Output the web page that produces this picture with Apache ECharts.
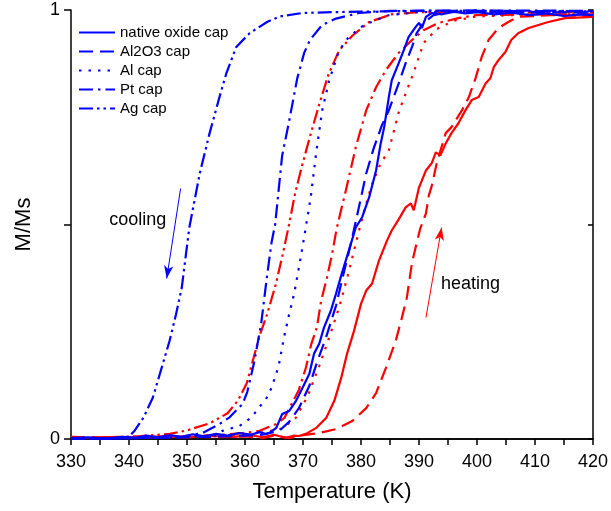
<!DOCTYPE html>
<html>
<head>
<meta charset="utf-8">
<script src="https://cdn.jsdelivr.net/npm/echarts@6/dist/echarts.min.js"></script>
<style>
  html, body { margin: 0; padding: 0; background: #fff; }
  #chart { width: 611px; height: 511px; }
</style>
</head>
<body>
<div id="chart"></div>
<script>
// Normalised magnetisation M/Ms versus temperature for differently capped films.
// Each curve is a list of [temperature (K), M/Ms] samples.

const capNames = ['native oxide cap', 'Al2O3 cap', 'Al cap', 'Pt cap', 'Ag cap'];

// cooling branches (blue)
const coolNative = [[330,0.002],[333,0.004],[336,0.001],[339,0.005],[341,0.003],[343,0.008],[345,0.004],[347,0.009],[349,0.005],[351,0.011],[353,0.006],[355,0.012],[357,0.008],[359,0.014],[361,0.01],[362.5,0.016],[363.5,0.012],[364.2,0.014],[365.4,0.026],[366.4,0.058],[367.6,0.065],[368.8,0.089],[369.9,0.119],[371.1,0.152],[371.9,0.199],[372.8,0.222],[373.6,0.259],[374.8,0.299],[375.7,0.339],[376.7,0.386],[377.9,0.439],[379.1,0.493],[380.2,0.517],[381.4,0.563],[382.6,0.626],[383.4,0.689],[384.0,0.727],[384.8,0.797],[385.3,0.836],[386.5,0.876],[387.4,0.907],[388.2,0.937],[389.4,0.96],[390.0,0.97],[390.5,0.958],[391.2,0.984],[392.2,0.993],[394,0.99],[396,0.996],[398,0.992],[400,0.995],[403,0.99],[406,0.994],[409,0.988],[412,0.992],[415,0.986],[418,0.99],[420,0.988]];
const coolAl2O3 = [[330,0.0],[340,0.002],[350,0.004],[356,0.006],[360,0.008],[363,0.01],[365.9,0.019],[367.6,0.04],[369.3,0.072],[371.1,0.124],[372.4,0.178],[374.0,0.238],[375.7,0.311],[376.7,0.369],[378.3,0.458],[379.7,0.544],[380.9,0.619],[382.2,0.678],[383.6,0.731],[384.8,0.766],[386.5,0.829],[387.7,0.876],[388.8,0.914],[389.6,0.946],[390.8,0.97],[392.5,0.988],[395,0.995],[400,0.996],[410,0.995],[420,0.994]];
const coolAl = [[330,0],[345,0.003],[355,0.008],[356.1,0.019],[359.0,0.03],[361.1,0.05],[362.5,0.075],[363.6,0.092],[364.6,0.12],[365.8,0.17],[366.7,0.235],[367.6,0.29],[368.5,0.34],[369.3,0.40],[370.2,0.47],[370.8,0.52],[371.3,0.56],[372.3,0.67],[373.3,0.765],[374.5,0.835],[376.2,0.905],[377.9,0.937],[380.5,0.965],[384.8,0.988],[390,0.995],[400,0.997],[420,0.996]];
const coolPt = [[330,0],[340,0.002],[346,0.003],[349.5,0.005],[352.7,0.014],[355.6,0.035],[357.3,0.05],[359.6,0.082],[360.4,0.11],[361.6,0.18],[362.8,0.27],[363.8,0.38],[364.6,0.46],[365.2,0.50],[366.4,0.66],[367.6,0.74],[369.0,0.84],[370.2,0.90],[371.2,0.93],[373.3,0.965],[375.7,0.98],[379.7,0.993],[385,0.998],[400,0.999],[420,0.998]];
const coolAg = [[330,0],[336,0.001],[339.8,0.002],[341,0.02],[342.5,0.05],[344.1,0.096],[345.5,0.16],[347.0,0.229],[348.1,0.29],[349.1,0.353],[350.4,0.493],[352.2,0.619],[353.9,0.713],[355.6,0.797],[356.8,0.853],[358.5,0.914],[360.8,0.946],[363.8,0.972],[366,0.985],[369.9,0.993],[375,0.995],[380,0.996],[390,0.998],[400,0.998],[420,0.997]];

// heating branches (red)
const heatNative = [[330,0.003],[334,0.002],[338,0.005],[342,0.003],[346,0.006],[350,0.004],[354,0.007],[358,0.005],[361,0.009],[363,0.004],[365,0.01],[367,0.003],[368.5,0.008],[369.3,0.007],[370.5,0.012],[372.3,0.026],[374.0,0.049],[375.4,0.089],[376.6,0.143],[377.6,0.199],[378.8,0.252],[380.0,0.315],[380.9,0.346],[381.9,0.362],[383.1,0.416],[384.5,0.463],[385.3,0.486],[386.5,0.512],[387.7,0.54],[388.6,0.549],[389.1,0.533],[390.0,0.586],[391.2,0.626],[392.2,0.643],[392.9,0.668],[393.7,0.661],[394.6,0.689],[395.6,0.713],[396.8,0.736],[398.0,0.766],[399.1,0.79],[400.3,0.797],[401.5,0.829],[402.3,0.841],[402.9,0.867],[403.7,0.883],[404.9,0.902],[405.9,0.93],[407.1,0.946],[408.9,0.958],[410.6,0.965],[412.3,0.972],[415.2,0.981],[420,0.984]];
const heatAl2O3 = [[330,0.005],[335,0.004],[340,0.003],[345,0.004],[350,0.005],[355,0.004],[360,0.006],[363,0.002],[365,0.008],[367.6,0.002],[370,0.009],[372.8,0.014],[375.7,0.023],[378.5,0.042],[380.9,0.072],[382.6,0.107],[384.3,0.166],[386.0,0.229],[387.0,0.28],[387.9,0.329],[388.8,0.411],[389.5,0.451],[390.2,0.49],[391.2,0.526],[391.7,0.568],[392.2,0.59],[393.1,0.645],[394.6,0.713],[395.6,0.727],[397.4,0.766],[398.6,0.797],[399.8,0.843],[400.8,0.89],[402.0,0.93],[403.7,0.958],[405.4,0.972],[407.1,0.984],[412.8,0.988],[420,0.986]];
const heatAl = [[330,0.002],[340,0.003],[350,0.005],[358,0.008],[362,0.012],[366.5,0.025],[368.8,0.05],[370.8,0.1],[372.8,0.17],[374.6,0.24],[376.3,0.31],[377.7,0.38],[379,0.45],[380.3,0.52],[381.8,0.59],[383.3,0.64],[384.8,0.673],[386.6,0.766],[389.1,0.855],[390.8,0.923],[393,0.955],[396,0.975],[400,0.985],[410,0.99],[420,0.99]];
const heatPt = [[330,0.002],[340,0.004],[350,0.006],[356,0.01],[360,0.014],[362.5,0.019],[365.4,0.035],[366.8,0.049],[367.6,0.07],[369.3,0.115],[370.5,0.166],[371.4,0.22],[372.4,0.26],[373.1,0.32],[374.2,0.38],[375.0,0.43],[375.8,0.49],[376.5,0.53],[377.4,0.58],[379.1,0.68],[380.9,0.766],[382.6,0.82],[384.3,0.86],[386.5,0.90],[388.8,0.93],[390.8,0.953],[393.4,0.970],[396.8,0.981],[399.8,0.988],[410,0.99],[420,0.99]];
const heatAg = [[330,0],[342,0.007],[347,0.012],[350,0.02],[354,0.037],[357,0.06],[358.8,0.09],[360.3,0.13],[361.5,0.19],[362.5,0.24],[363.8,0.29],[365.3,0.36],[366.5,0.43],[367.6,0.50],[368.6,0.57],[369.7,0.63],[371.1,0.70],[372.8,0.78],[374.4,0.85],[376.2,0.905],[378.5,0.94],[381.4,0.972],[385.3,0.99],[390,0.995],[400,0.996],[420,0.995]];

// axis ticks
const xMin = 330, xMax = 420, xStep = 5;
const yMin = 0, yMax = 1, yStep = 0.5;

// annotations: arrow ends and text anchors in data units
const coolingArrow = [[348.9, 0.584], [346.5, 0.374]];
const heatingArrow = [[391.2, 0.283], [393.9, 0.493]];
const coolingText = [341.5, 0.51, 'cooling'];
const heatingText = [398.9, 0.362, 'heating'];

const BLUE = '#0000ff', RED = '#ff0000';
const FONT = '"Liberation Sans", Arial, sans-serif';
const dashes = ['solid', [14, 7], [2.5, 7], [14, 5, 2.5, 5], [14, 4, 2.5, 4, 2.5, 4]];
const LINE_W = 2.2;

const cooling = [coolNative, coolAl2O3, coolAl, coolPt, coolAg];
const heating = [heatNative, heatAl2O3, heatAl, heatPt, heatAg];

function arrowLine(pts, color) {
  return {
    silent: true,
    animation: false,
    symbol: ['none', 'arrow'],
    label: { show: false },
    lineStyle: { color: color, width: 1, type: 'solid' },
    emphasis: { disabled: true },
    data: [[
      { coord: pts[0], symbol: 'none' },
      { coord: pts[1], symbol: 'arrow', symbolSize: [7, 13] }
    ]]
  };
}

const series = [];
heating.forEach((d, i) => {
  series.push({
    name: capNames[i] + ' (heating)',
    type: 'line', data: d, showSymbol: false, symbol: 'none', silent: true,
    lineStyle: { color: RED, width: LINE_W, type: dashes[i], cap: 'butt' },
    itemStyle: { color: RED },
    markLine: i === 0 ? arrowLine(heatingArrow, RED) : undefined,
    z: 2
  });
});
cooling.forEach((d, i) => {
  series.push({
    name: capNames[i],
    type: 'line', data: d, showSymbol: false, symbol: 'none', silent: true,
    lineStyle: { color: BLUE, width: LINE_W, type: dashes[i], cap: 'butt' },
    itemStyle: { color: BLUE },
    markLine: i === 4 ? arrowLine(coolingArrow, BLUE) : undefined,
    z: 3
  });
});
series.push({
  name: 'notes', type: 'scatter', silent: true,
  data: [coolingText, heatingText],
  symbolSize: 1,
  itemStyle: { color: 'rgba(0,0,0,0)', opacity: 1 },
  label: {
    show: true, position: 'inside', opacity: 1,
    formatter: p => p.data[2],
    fontFamily: FONT, fontSize: 18, color: '#000',
    textBorderWidth: 0, textShadowBlur: 0
  },
  z: 5
});

const axisLine = { show: true, lineStyle: { color: '#000', width: 1.5 } };

const option = {
  animation: false,
  backgroundColor: '#fff',
  textStyle: { fontFamily: FONT },
  grid: { left: 71, right: 17, top: 10, bottom: 72, containLabel: false },
  legend: {
    data: capNames,
    orient: 'vertical',
    left: 78, top: 25, padding: 0,
    itemWidth: 36, itemHeight: 14, itemGap: 4,
    itemStyle: { opacity: 0 },
    textStyle: { fontFamily: FONT, fontSize: 15, color: '#000' },
    selectedMode: false
  },
  xAxis: [{
    type: 'value', position: 'bottom', min: xMin, max: xMax, interval: xStep,
    axisLine: axisLine,
    axisTick: { show: true, inside: false, length: 6, lineStyle: { color: '#000', width: 1.5 } },
    axisLabel: {
      fontFamily: FONT, fontSize: 18, color: '#000', margin: 14,
      formatter: v => (v % 10 === 0 ? String(v) : '')
    },
    splitLine: { show: false },
    name: 'Temperature (K)', nameLocation: 'middle', nameGap: 42,
    nameTextStyle: { fontFamily: FONT, fontSize: 22, color: '#000' }
  }, {
    type: 'value', position: 'top', min: xMin, max: xMax, interval: xStep,
    axisLine: axisLine,
    axisTick: { show: true, inside: true, length: 5, lineStyle: { color: '#000', width: 1.5 } },
    axisLabel: { show: false },
    splitLine: { show: false }
  }],
  yAxis: [{
    type: 'value', position: 'left', min: yMin, max: yMax, interval: yStep,
    axisLine: axisLine,
    axisTick: { show: true, inside: false, length: 7, lineStyle: { color: '#000', width: 1.5 } },
    axisLabel: {
      fontFamily: FONT, fontSize: 18, color: '#000', margin: 11,
      formatter: v => (v === 0 || v === 1 ? String(v) : '')
    },
    splitLine: { show: false },
    name: 'M/Ms', nameLocation: 'middle', nameGap: 36,
    nameTextStyle: { fontFamily: FONT, fontSize: 22, color: '#000' }
  }, {
    type: 'value', position: 'right', min: yMin, max: yMax, interval: yStep,
    axisLine: axisLine,
    axisTick: { show: true, inside: true, length: 5, lineStyle: { color: '#000', width: 1.5 } },
    axisLabel: { show: false },
    splitLine: { show: false }
  }],
  series: series
};

const chart = echarts.init(document.getElementById('chart'), null, { renderer: 'canvas' });
chart.setOption(option);
</script>
</body>
</html>
